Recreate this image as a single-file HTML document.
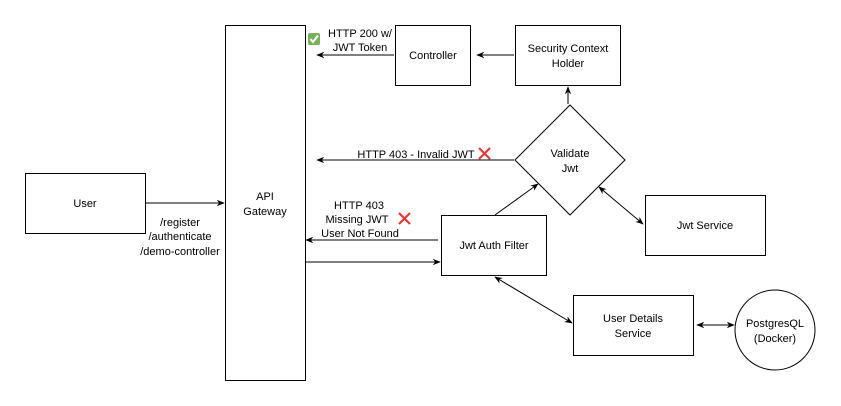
<!DOCTYPE html>
<html><head><style>body{margin:0;background:#fff}svg{display:block}text{font-family:"Liberation Sans",sans-serif;font-size:11px;fill:#000}</style></head>
<body>
<svg width="841" height="406" viewBox="0 0 841 406" xmlns="http://www.w3.org/2000/svg">
<defs>
<marker id="a" viewBox="0 0 10 10" refX="9" refY="5" markerWidth="8" markerHeight="8" orient="auto-start-reverse"><path d="M0,1 L10,5 L0,9 L3,5 Z" fill="#000"/></marker>
</defs>
<g fill="#fff" stroke="#000" stroke-width="1">
<rect x="25.5" y="173.5" width="120" height="60"/>
<rect x="225.5" y="25.5" width="80" height="355"/>
<rect x="395.5" y="25.5" width="75" height="60"/>
<rect x="515.5" y="25.5" width="105" height="60"/>
<polygon points="570,105 625,160 570,215 515,160"/>
<rect x="645.5" y="195.5" width="120" height="60"/>
<rect x="441.5" y="215.5" width="105" height="60"/>
<rect x="573.5" y="295.5" width="120" height="60"/>
<circle cx="775" cy="330" r="40"/>
</g>
<g stroke="#000" stroke-width="1" fill="none">
<line x1="146" y1="203" x2="224" y2="203" marker-end="url(#a)"/>
<line x1="394" y1="55" x2="317" y2="55" marker-end="url(#a)"/>
<line x1="514" y1="55" x2="477" y2="55" marker-end="url(#a)"/>
<line x1="568" y1="104" x2="568" y2="87" marker-end="url(#a)"/>
<line x1="514" y1="160" x2="317" y2="160" marker-end="url(#a)"/>
<line x1="438" y1="240" x2="306" y2="240" marker-end="url(#a)"/>
<line x1="306" y1="262" x2="440" y2="262" marker-end="url(#a)"/>
<line x1="495" y1="215" x2="538" y2="184" marker-end="url(#a)"/>
<line x1="599" y1="187" x2="643" y2="224" marker-start="url(#a)" marker-end="url(#a)"/>
<line x1="495" y1="277" x2="572" y2="323" marker-start="url(#a)" marker-end="url(#a)"/>
<line x1="697" y1="325" x2="734" y2="325" marker-start="url(#a)" marker-end="url(#a)"/>
</g>
<g text-anchor="middle">
<text x="85" y="207">User</text>
<text x="265" y="200">API</text><text x="265" y="215">Gateway</text>
<text x="433" y="59">Controller</text>
<text x="568" y="52">Security Context</text><text x="568" y="67">Holder</text>
<text x="570" y="157">Validate</text><text x="570" y="172">Jwt</text>
<text x="705" y="229">Jwt Service</text>
<text x="494" y="249">Jwt Auth Filter</text>
<text x="633" y="322">User Details</text><text x="633" y="337">Service</text>
<text x="775" y="327">PostgresQL</text><text x="775" y="342">(Docker)</text>
<text x="180" y="226">/register</text>
<text x="180" y="240">/authenticate</text>
<text x="180" y="255">/demo-controller</text>
<text x="359" y="209">HTTP 403</text>
<text x="357" y="223">Missing JWT</text>
<text x="360" y="237">User Not Found</text>
<text x="416" y="158">HTTP 403 - Invalid JWT</text>
<text x="360" y="37">HTTP 200 w/</text>
<text x="360" y="51">JWT Token</text>
</g>
<rect x="308" y="33" width="12" height="12" rx="2" fill="#78b159"/>
<path d="M310.5,39 L313,42 L318,35.5" stroke="#fff" stroke-width="2" fill="none"/>
<g stroke="#e53935" stroke-width="2.2">
<path d="M479,148 L490,159 M490,148 L479,159"/>
<path d="M399,213 L410,224 M410,213 L399,224"/>
</g>
</svg>
</body></html>
